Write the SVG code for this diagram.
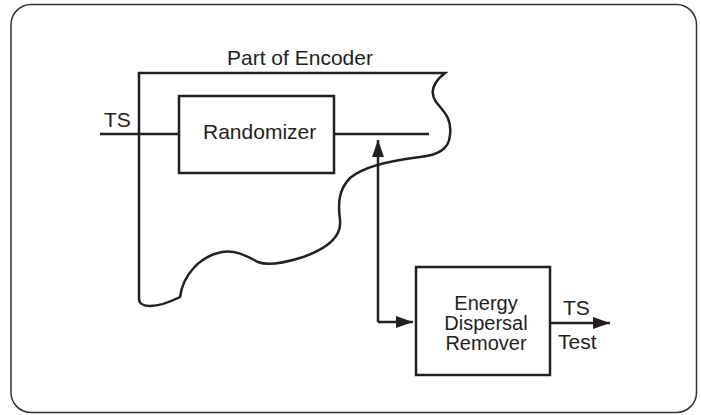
<svg xmlns="http://www.w3.org/2000/svg" width="701" height="415" viewBox="0 0 701 415">
<style>
text{font-family:"Liberation Sans",Arial,sans-serif;font-size:21px;fill:#231f20}
.box{fill:#fff;stroke:#231f20;stroke-width:2.5}
.ln{fill:none;stroke:#231f20;stroke-width:2.5}
.ml{font-size:20px}
</style>
<defs>
<marker id="ah" markerWidth="17" markerHeight="12" refX="17" refY="6" orient="auto" markerUnits="userSpaceOnUse">
<path d="M0,0 L17,6 L0,12 Z" fill="#231f20"/>
</marker>
</defs>
<rect x="11" y="4.5" width="685.5" height="408" rx="20" ry="20" fill="#fff" stroke="#333" stroke-width="1.5"/>
<g id="encoder">
<path class="ln" d="M139,299 L139,73 L445,73 C436,80 428,90 436,102 C444,112 452,118 450,135 C449,150 437,155 420,157 C395,160 365,165 350,178 C338,190 338,205 340,220 C342,238 325,250 300,258 C280,264 265,265 258,262 C245,255 235,250 222,252 C200,256 183,275 180,297 C170,302 160,306 150,306 C143,306 139,303 139,299 Z"/>
<text x="227" y="65">Part of Encoder</text>
</g>
<g id="connectors">
<line class="ln" x1="100" y1="134" x2="179" y2="134"/>
<line class="ln" x1="334" y1="134" x2="429" y2="134"/>
<path class="ln" d="M378,322 L378,140" marker-end="url(#ah)"/>
<path class="ln" d="M378,322 L413,322" marker-end="url(#ah)"/>
<path class="ln" d="M550,323 L610,323" marker-end="url(#ah)"/>
<text x="104" y="127">TS</text>
<text x="563" y="315">TS</text>
<text x="558" y="349">Test</text>
</g>
<g id="randomizer">
<rect class="box" x="179" y="96" width="155" height="77"/>
<text x="203" y="139">Randomizer</text>
</g>
<g id="remover">
<rect class="box" x="416" y="267" width="134" height="108"/>
<text class="ml" x="486" y="310" text-anchor="middle">Energy</text>
<text class="ml" x="486" y="330" text-anchor="middle">Dispersal</text>
<text class="ml" x="486" y="350" text-anchor="middle">Remover</text>
</g>
</svg>
